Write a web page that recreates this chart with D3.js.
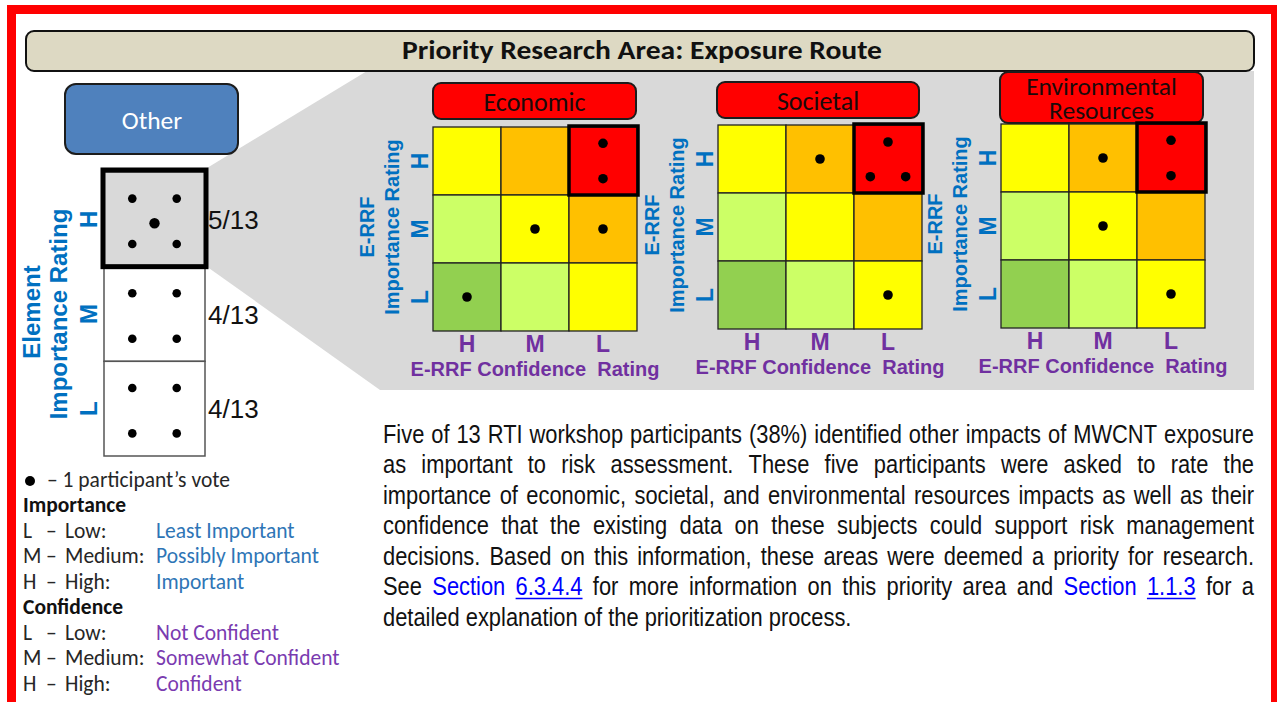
<!DOCTYPE html>
<html>
<head>
<meta charset="utf-8">
<script src="https://cdn.jsdelivr.net/npm/d3@7"></script>
<style>
  body { margin: 0; background: #fff; }
  svg { display: block; }
</style>
</head>
<body>
<div id="chart"></div>
<script>
// ---- data ----
const importanceLevels = ["H", "M", "L"];
const confidenceLevels = ["H", "M", "L"];
const areaNames = ["Economic", "Societal", "Environmental Resources"];
const participantCount = 13;
const otherVotes = [5, 4, 4]; // by importance H, M, L
// votes[importance][confidence]
const economicVotes = [[0, 0, 2], [0, 1, 1], [1, 0, 0]];
const societalVotes = [[0, 1, 3], [0, 0, 0], [0, 0, 1]];
const environmentalVotes = [[0, 1, 2], [0, 1, 0], [0, 0, 1]];
const importanceLegend = [["L", "Low:", "Least Important"], ["M", "Medium:", "Possibly Important"], ["H", "High:", "Important"]];
const confidenceLegend = [["L", "Low:", "Not Confident"], ["M", "Medium:", "Somewhat Confident"], ["H", "High:", "Confident"]];
const paragraphLines = [
  "Five of 13 RTI workshop participants (38%) identified other impacts of MWCNT exposure",
  "as important to risk assessment. These five participants were asked to rate the",
  "importance of economic, societal, and environmental resources impacts as well as their",
  "confidence that the existing data on these subjects could support risk management",
  "decisions. Based on this information, these areas were deemed a priority for research.",
  "See Section 6.3.4.4 for more information on this priority area and Section 1.1.3 for a",
  "detailed explanation of the prioritization process."
];
const linkWords = ["Section", "6.3.4.4", "1.1.3"];
const underlinedWords = ["6.3.4.4", "1.1.3"];

// ---- setup ----
const width = 1277, height = 702;
const blue = "#0070c0", purple = "#7030a0";
const arial = "'Liberation Sans', Arial, sans-serif";
const calibri = "Carlito, Lato, sans-serif";

const riskColor = d3.scaleOrdinal()
  .domain([0, 1, 2, 3, 4])
  .range(["#92d050", "#ccff66", "#ffff00", "#ffc000", "#ff0000"]);

// dot offsets as fraction of the cell size
const dotLayouts = {
  1: [[0, 0]],
  2: [[0, -0.26], [0, 0.26]],
  3: [[0, -0.25], [-0.26, 0.26], [0.26, 0.26]],
  4: [[-0.22, -0.24], [0.22, -0.24], [-0.22, 0.24], [0.22, 0.24]],
  5: [[-0.22, -0.24], [0.22, -0.24], [0, 0.02], [-0.22, 0.24], [0.22, 0.24]]
};

const svg = d3.select("#chart")
  .append("svg")
  .attr("width", width)
  .attr("height", height);

// left column scale
const leftY = d3.scaleBand().domain(importanceLevels).range([172, 456]);
const leftX0 = 104, leftX1 = 205;

// gray wedge behind the heatmaps
svg.append("path")
  .attr("d", `M${leftX1 + 2},${leftY("H") - 4} L367,71 L1254,71 L1254,390 L380,390 L${leftX1 + 2},${leftY("H") + leftY.bandwidth()} Z`)
  .attr("fill", "#d9d9d9");

// title bar
svg.append("rect")
  .attr("x", 26).attr("y", 31)
  .attr("width", 1228).attr("height", 40)
  .attr("rx", 8)
  .attr("fill", "#ddd9c3")
  .attr("stroke", "#111")
  .attr("stroke-width", 2);

svg.append("text")
  .attr("x", 402).attr("y", 59)
  .attr("font-family", calibri)
  .attr("font-weight", "bold")
  .attr("font-size", 26)
  .attr("fill", "#111")
  .attr("textLength", 480)
  .attr("lengthAdjust", "spacingAndGlyphs")
  .text("Priority Research Area: Exposure Route");

// "Other" box
svg.append("rect")
  .attr("x", 65).attr("y", 84)
  .attr("width", 173).attr("height", 70)
  .attr("rx", 11)
  .attr("fill", "#4f81bd")
  .attr("stroke", "#1c1c1c")
  .attr("stroke-width", 2);

svg.append("text")
  .attr("x", 152).attr("y", 129)
  .attr("text-anchor", "middle")
  .attr("font-family", calibri)
  .attr("font-size", 25.5)
  .attr("fill", "#fff")
  .text("Other");

// left column boxes
const leftCells = importanceLevels.map((imp, i) => ({ imp, votes: otherVotes[i] }));

svg.selectAll(".leftbox")
  .data(leftCells)
  .enter()
  .append("rect")
  .attr("x", leftX0)
  .attr("y", (d) => leftY(d.imp))
  .attr("width", leftX1 - leftX0)
  .attr("height", leftY.bandwidth())
  .attr("fill", (d, i) => (i === 0 ? "#d9d9d9" : "#fff"))
  .attr("stroke", "#555")
  .attr("stroke-width", 1.5);

// thick border on the selected level
svg.append("rect")
  .attr("x", leftX0 - 1)
  .attr("y", leftY("H") - 2)
  .attr("width", leftX1 - leftX0 + 2)
  .attr("height", leftY.bandwidth() + 2)
  .attr("fill", "none")
  .attr("stroke", "#000")
  .attr("stroke-width", 5);

leftCells.forEach((d) => {
  const cx = (leftX0 + leftX1) / 2;
  const cy = leftY(d.imp) + leftY.bandwidth() / 2;
  const bw = leftX1 - leftX0;
  dotLayouts[d.votes].forEach(([dx, dy], k) => {
    svg.append("circle")
      .attr("cx", cx + dx * bw)
      .attr("cy", cy + dy * leftY.bandwidth() + 2)
      .attr("r", d.votes === 5 && k === 2 ? 5.2 : 4.3)
      .attr("fill", "#000");
  });
  svg.append("text")
    .attr("x", 208)
    .attr("y", cy + 9.5)
    .attr("font-family", arial)
    .attr("font-size", 26)
    .attr("fill", "#111")
    .text(`${d.votes}/${participantCount}`);
});

// left axis (H/M/L rotated)
const leftAxis = svg.append("g")
  .attr("transform", `translate(${leftX0},0)`)
  .call(d3.axisLeft(leftY).tickSize(0));
leftAxis.select(".domain").remove();
leftAxis.selectAll("text")
  .attr("x", 0).attr("dy", null)
  .attr("y", -7)
  .attr("transform", "rotate(-90)")
  .attr("text-anchor", "middle")
  .attr("font-family", arial)
  .attr("font-weight", "bold")
  .attr("font-size", 24)
  .attr("fill", blue);

const leftMid = (leftY.range()[0] + leftY.range()[1]) / 2;
[["Element", 40, leftMid - 2], ["Importance Rating", 67, leftMid]].forEach(([t, bx, cy]) => {
  svg.append("text")
    .attr("transform", `translate(${bx},${cy}) rotate(-90)`)
    .attr("text-anchor", "middle")
    .attr("font-family", arial)
    .attr("font-weight", "bold")
    .attr("font-size", 24)
    .attr("fill", blue)
    .text(t);
});

// ---- heatmap panels ----
const panels = [
  { name: areaNames[0], votes: economicVotes, x: 433, y: 127, titleX: 433, titleY: 83, titleW: 203, titleH: 36 },
  { name: areaNames[1], votes: societalVotes, x: 718, y: 125, titleX: 717, titleY: 82, titleW: 202, titleH: 36 },
  { name: areaNames[2], votes: environmentalVotes, x: 1001, y: 124, titleX: 1000, titleY: 72, titleW: 203, titleH: 51 }
];
const gridSize = 204;

panels.forEach((p) => {
  const g = svg.append("g");
  const x = d3.scaleBand().domain(confidenceLevels).range([p.x, p.x + gridSize]);
  const y = d3.scaleBand().domain(importanceLevels).range([p.y, p.y + gridSize]);

  // title box
  g.append("rect")
    .attr("x", p.titleX).attr("y", p.titleY)
    .attr("width", p.titleW).attr("height", p.titleH)
    .attr("rx", 8)
    .attr("fill", "#ff0000")
    .attr("stroke", "#1c1c1c")
    .attr("stroke-width", 2);

  const words = p.name.split(" ");
  const lineH = 24;
  const tcx = p.titleX + p.titleW / 2;
  const tcy = p.titleY + p.titleH / 2;
  words.forEach((w, k) => {
    g.append("text")
      .attr("x", tcx)
      .attr("y", tcy + 9.5 + (k - (words.length - 1) / 2) * lineH)
      .attr("text-anchor", "middle")
      .attr("font-family", calibri)
      .attr("font-size", words.length > 1 ? 25.5 : 26)
      .attr("fill", "#1a0a0a")
      .text(w);
  });

  const cells = importanceLevels.flatMap((imp, i) =>
    confidenceLevels.map((conf, j) => ({ imp, conf, votes: p.votes[i][j], score: 2 - i + j }))
  );

  g.selectAll(".cell")
    .data(cells)
    .enter()
    .append("rect")
    .attr("x", (d) => x(d.conf))
    .attr("y", (d) => y(d.imp))
    .attr("width", x.bandwidth())
    .attr("height", y.bandwidth())
    .attr("fill", (d) => riskColor(d.score))
    .attr("stroke", "#222")
    .attr("stroke-width", 1.3);

  g.selectAll(".hot")
    .data(cells.filter((d) => d.score === 4))
    .enter()
    .append("rect")
    .attr("x", (d) => x(d.conf))
    .attr("y", (d) => y(d.imp) - 1)
    .attr("width", x.bandwidth() + 1)
    .attr("height", y.bandwidth() + 1)
    .attr("fill", "none")
    .attr("stroke", "#000")
    .attr("stroke-width", 3.5);

  cells.filter((d) => d.votes > 0).forEach((d) => {
    const cx = x(d.conf) + x.bandwidth() / 2;
    const cy = y(d.imp) + y.bandwidth() / 2;
    dotLayouts[d.votes].forEach(([dx, dy]) => {
      g.append("circle")
        .attr("cx", cx + dx * x.bandwidth())
        .attr("cy", cy + dy * y.bandwidth())
        .attr("r", 4.8)
        .attr("fill", "#000");
    });
  });

  // y axis ticks
  const ya = g.append("g")
    .attr("transform", `translate(${p.x},0)`)
    .call(d3.axisLeft(y).tickSize(0));
  ya.select(".domain").remove();
  ya.selectAll("text")
    .attr("x", 0).attr("dy", null)
    .attr("y", -5)
    .attr("transform", "rotate(-90)")
    .attr("text-anchor", "middle")
    .attr("font-family", arial)
    .attr("font-weight", "bold")
    .attr("font-size", 23)
    .attr("fill", blue);

  // x axis ticks
  const xa = g.append("g")
    .attr("transform", `translate(0,${p.y + gridSize})`)
    .call(d3.axisBottom(x).tickSize(0));
  xa.select(".domain").remove();
  xa.selectAll("text")
    .attr("dy", null)
    .attr("y", 21)
    .attr("font-family", arial)
    .attr("font-weight", "bold")
    .attr("font-size", 23)
    .attr("fill", purple);

  const midY = p.y + gridSize / 2 - 2;
  [["E-RRF", p.x - 59], ["Importance Rating", p.x - 34]].forEach(([t, bx]) => {
    g.append("text")
      .attr("transform", `translate(${bx},${midY}) rotate(-90)`)
      .attr("text-anchor", "middle")
      .attr("font-family", arial)
      .attr("font-weight", "bold")
      .attr("font-size", 20)
      .attr("fill", blue)
      .text(t);
  });

  g.append("text")
    .attr("x", p.x + gridSize / 2)
    .attr("y", p.y + gridSize + 45)
    .attr("text-anchor", "middle")
    .attr("font-family", arial)
    .attr("font-weight", "bold")
    .attr("font-size", 20)
    .attr("fill", purple)
    .attr("xml:space", "preserve")
    .style("white-space", "pre")
    .text("E-RRF Confidence  Rating");
});

// ---- legend ----
const legendFont = 21.5;
const legendColor = "#262626";
svg.append("circle").attr("cx", 30).attr("cy", 481).attr("r", 5).attr("fill", "#000");
svg.append("text")
  .attr("x", 47).attr("y", 487)
  .attr("font-family", calibri).attr("font-size", legendFont).attr("fill", legendColor)
  .text("– 1 participant’s vote");

function legendBlock(title, rows, top, color) {
  svg.append("text")
    .attr("x", 23).attr("y", top)
    .attr("font-family", calibri).attr("font-weight", "bold")
    .attr("font-size", legendFont).attr("fill", "#111")
    .text(title);
  rows.forEach(([code, word, desc], i) => {
    const by = top + 25.5 * (i + 1);
    svg.append("text").attr("x", 23).attr("y", by)
      .attr("font-family", calibri).attr("font-size", legendFont).attr("fill", legendColor)
      .text(code);
    svg.append("text").attr("x", 46).attr("y", by)
      .attr("font-family", calibri).attr("font-size", legendFont).attr("fill", legendColor)
      .text("–");
    svg.append("text").attr("x", 65).attr("y", by)
      .attr("font-family", calibri).attr("font-size", legendFont).attr("fill", legendColor)
      .text(word);
    svg.append("text").attr("x", 156).attr("y", by)
      .attr("font-family", calibri).attr("font-size", legendFont).attr("fill", color)
      .text(desc);
  });
}
legendBlock("Importance", importanceLegend, 512, "#2e75b6");
legendBlock("Confidence", confidenceLegend, 614, "#7a3bb0");

// ---- paragraph (justified) ----
const paraFont = 26.7;
const narrowFont = "'Liberation Sans Narrow', 'Liberation Sans'";
const probeA = svg.append("text").attr("font-family", narrowFont).attr("font-size", 100).text("abcdefghij");
const probeB = svg.append("text").attr("font-family", "'Liberation Sans'").attr("font-size", 100).text("abcdefghij");
const hasNarrow = probeA.node().getComputedTextLength() < probeB.node().getComputedTextLength() * 0.95;
probeA.remove(); probeB.remove();
const squeeze = hasNarrow ? 1 : 0.82;

const paraLeft = 383, paraRight = 1254, paraTop = 443, paraStep = 30.5;
const para = svg.append("g").attr("transform", `translate(${paraLeft},0) scale(${squeeze},1)`);
const targetW = (paraRight - paraLeft) / squeeze;

paragraphLines.forEach((line, li) => {
  const words = line.split(" ");
  const by = paraTop + li * paraStep;
  const nodes = words.map((w) =>
    para.append("text")
      .attr("y", by)
      .attr("font-family", narrowFont)
      .attr("font-size", paraFont)
      .attr("fill", linkWords.includes(w) && li === 5 ? "#0000ff" : "#111")
      .text(w)
  );
  const widths = nodes.map((n) => n.node().getComputedTextLength());
  const spaceW = paraFont * 0.278 * (hasNarrow ? 0.82 : 1);
  const last = li === paragraphLines.length - 1;
  const gap = last ? spaceW : (targetW - d3.sum(widths)) / (words.length - 1);
  let cx = 0;
  nodes.forEach((n, k) => {
    n.attr("x", cx);
    if (li === 5 && underlinedWords.includes(words[k])) {
      para.append("line")
        .attr("x1", cx).attr("x2", cx + widths[k])
        .attr("y1", by + 3).attr("y2", by + 3)
        .attr("stroke", "#0000ff").attr("stroke-width", 1.6);
    }
    cx += widths[k] + gap;
  });
});

// ---- red frame ----
svg.append("rect")
  .attr("x", 11.5).attr("y", 9.5)
  .attr("width", 1264).attr("height", 760)
  .attr("fill", "none")
  .attr("stroke", "#ff0000")
  .attr("stroke-width", 9);
</script>
</body>
</html>
